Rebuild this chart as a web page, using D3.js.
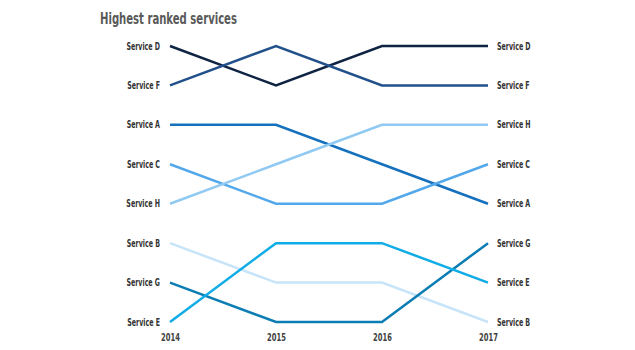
<!DOCTYPE html>
<html>
<head>
<meta charset="utf-8">
<script src="https://cdn.jsdelivr.net/npm/d3@7"></script>
<style>
  body { margin: 0; background: #fff; }
  text { font-family: "DejaVu Sans Condensed", "Liberation Sans Narrow", sans-serif; font-weight: bold; font-stretch: condensed; }
</style>
</head>
<body>
<div id="container"></div>
<script>
/* CONSTANTS AND GLOBALS */
const width = 635
const height = 350
const margin = { top: 46, bottom: 28, left: 170, right: 147 }

// DATA: rank of each service per year (1 = top)
const years = [2014, 2015, 2016, 2017]
const services = ["Service D", "Service F", "Service A", "Service C", "Service H", "Service B", "Service G", "Service E"]
const ranks = [
  [1, 2, 1, 1], // D
  [2, 1, 2, 2], // F
  [3, 3, 4, 5], // A
  [4, 5, 5, 4], // C
  [5, 4, 3, 3], // H
  [6, 7, 7, 8], // B
  [7, 8, 8, 6], // G
  [8, 6, 6, 7], // E
]
const colors = ["#0f2342", "#22508a", "#1570bd", "#52a8ea", "#90c9f2", "#c8e4f8", "#0b7db3", "#10ace6"]

const data = services.map((s, i) => ({
  name: s,
  color: colors[i],
  values: years.map((y, j) => ({ year: y, rank: ranks[i][j] }))
}))

// squeeze text horizontally to mimic a condensed face
function squeeze(sel, k) {
  sel.each(function () {
    const w = this.getComputedTextLength()
    d3.select(this)
      .attr("textLength", w * k)
      .attr("lengthAdjust", "spacingAndGlyphs")
  })
}

// SCALES
const xScale = d3.scalePoint()
  .domain(years)
  .range([margin.left, width - margin.right])

const yScale = d3.scaleLinear()
  .domain([1, 8])
  .range([margin.top, height - margin.bottom])

// CREATE SVG ELEMENT
const svg = d3.select("#container")
  .append("svg")
  .attr("width", width)
  .attr("height", height)

svg.append("text")
  .attr("x", 100)
  .attr("y", 24)
  .attr("fill", "#595959")
  .attr("font-size", 16)
  .text("Highest ranked services")
  .call(squeeze, 0.7)

// X AXIS (labels only)
const xAxis = d3.axisBottom(xScale).tickSize(0).tickPadding(0)
const xAxisGroup = svg.append("g")
  .attr("transform", `translate(0, ${height - 16})`)
  .call(xAxis)
xAxisGroup.select(".domain").remove()
xAxisGroup.selectAll("text")
  .attr("fill", "#404040")
  .attr("font-size", 10)
  .attr("font-family", null)
  .call(squeeze, 0.75)

// LINES
const line = d3.line()
  .x(d => xScale(d.year))
  .y(d => yScale(d.rank))

svg.selectAll(".line")
  .data(data)
  .join("path")
  .attr("class", "line")
  .attr("fill", "none")
  .attr("stroke", d => d.color)
  .attr("stroke-width", 2.5)
  .attr("d", d => line(d.values))

// LEFT LABELS
svg.selectAll(".leftLabel")
  .data(data)
  .join("text")
  .attr("class", "leftLabel")
  .attr("x", xScale(years[0]) - 10)
  .attr("y", d => yScale(d.values[0].rank))
  .attr("dy", "0.35em")
  .attr("text-anchor", "end")
  .attr("font-size", 10)
  .attr("fill", "#333")
  .text(d => d.name)
  .call(squeeze, 0.7)

// RIGHT LABELS
svg.selectAll(".rightLabel")
  .data(data)
  .join("text")
  .attr("class", "rightLabel")
  .attr("x", xScale(years[years.length - 1]) + 9)
  .attr("y", d => yScale(d.values[years.length - 1].rank))
  .attr("dy", "0.35em")
  .attr("font-size", 10)
  .attr("fill", "#333")
  .text(d => d.name)
  .call(squeeze, 0.7)
</script>
</body>
</html>
